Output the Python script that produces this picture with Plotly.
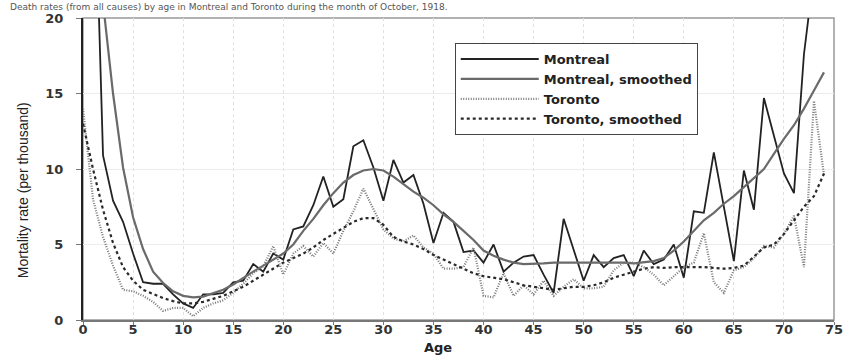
import plotly.graph_objects as go

ages = list(range(0, 75))

montreal = [
    80.0, 33.6, 10.9, 7.9, 6.5, 4.4, 2.5, 2.4, 2.4, 1.7,
    1.1, 0.8, 1.7, 1.7, 1.8, 2.5, 2.6, 3.7, 3.2, 4.4,
    4.0, 6.0, 6.2, 7.6, 9.5, 7.5, 8.0, 11.5, 11.9, 10.1,
    7.9, 10.6, 9.1, 9.6, 7.7, 5.1, 7.1, 6.5, 4.5, 4.6,
    3.8, 5.0, 3.2, 3.8, 4.2, 4.3, 3.0, 1.8, 6.7, 4.6,
    2.6, 4.3, 3.5, 4.1, 4.3, 2.9, 4.6, 3.7, 4.0, 5.0,
    2.8, 7.2, 7.1, 11.1, 7.5, 3.9, 9.9, 7.3, 14.7, 12.2,
    9.7, 8.4, 17.6, 23.0, 30.0,
]

montreal_smoothed = [
    60.0, 35.0, 21.0, 15.0, 10.1, 6.8, 4.7, 3.2, 2.45, 1.9,
    1.6, 1.5, 1.55, 1.75, 2.0, 2.35, 2.8, 3.2, 3.6, 4.0,
    4.4, 5.0, 5.9, 6.7, 7.6, 8.4, 9.1, 9.6, 9.9, 10.0,
    9.9, 9.5, 9.0, 8.5, 8.1, 7.6, 7.0, 6.5, 5.9, 5.3,
    4.6, 4.25, 4.0, 3.8, 3.7, 3.7, 3.75, 3.8, 3.8, 3.8,
    3.8, 3.8, 3.8, 3.8, 3.8, 3.75, 3.8, 3.9, 4.1, 4.6,
    5.2, 5.9, 6.6, 7.1, 7.7, 8.2, 8.8, 9.4, 10.0, 11.0,
    12.0, 12.9, 14.0, 15.2, 16.4,
]

toronto = [
    14.0, 8.0, 5.5, 3.6, 2.0, 1.9, 1.6, 1.2, 0.6, 0.8,
    0.8, 0.25, 0.8, 1.1, 1.3, 1.8, 2.4, 3.1, 3.55, 4.9,
    3.0, 4.4, 4.9, 4.2, 5.1, 4.4, 5.9, 7.2, 8.7, 7.3,
    6.0, 5.4, 5.2, 5.6, 4.8, 4.4, 3.4, 3.4, 3.5, 4.8,
    1.6, 1.5, 3.1, 1.6, 2.3, 1.7, 2.6, 1.6, 2.2, 2.7,
    2.1, 2.1, 2.2, 3.3, 3.8, 3.8, 3.5, 3.0, 2.3, 2.9,
    3.5, 3.8, 5.75, 2.5, 1.8, 3.3, 3.5, 4.1, 4.9, 4.8,
    5.7, 6.9, 3.5, 14.5, 9.6,
]

toronto_smoothed = [
    13.0, 10.0, 7.3, 5.1, 3.5, 2.6, 2.0, 1.7, 1.45, 1.25,
    1.1, 1.1, 1.2, 1.4, 1.6, 1.9, 2.2, 2.6, 3.0, 3.4,
    3.8, 4.1, 4.4, 4.8, 5.3, 5.7, 6.1, 6.5, 6.75, 6.75,
    6.3, 5.5, 5.2, 5.0, 4.7, 4.3, 4.0, 3.7, 3.4, 3.1,
    2.9, 2.8, 2.7, 2.5, 2.3, 2.2, 2.1, 2.0, 2.1, 2.2,
    2.2, 2.3, 2.5, 2.8, 3.0, 3.2, 3.4, 3.5, 3.45, 3.5,
    3.5, 3.5, 3.5, 3.45, 3.4, 3.45, 3.6, 4.2, 4.8, 5.0,
    5.7, 6.6, 7.5, 8.2, 9.7,
]

x_ticks = list(range(0, 80, 5))
y_ticks = [0, 5, 10, 15, 20]

title_text = ("Death rates (from all causes) by age in Montreal and Toronto "
              "during the month of October, 1918.")

fig = go.Figure()
fig.add_trace(go.Scatter(x=ages, y=montreal, mode="lines", name="Montreal",
                         line=dict(color="#222222", width=1.8)))
fig.add_trace(go.Scatter(x=ages, y=montreal_smoothed, mode="lines",
                         name="Montreal, smoothed",
                         line=dict(color="#6a6a6a", width=2.2)))
fig.add_trace(go.Scatter(x=ages, y=toronto, mode="lines", name="Toronto",
                         line=dict(color="#7a7a7a", width=2.2, dash="1px,1.5px")))
fig.add_trace(go.Scatter(x=ages, y=toronto_smoothed, mode="lines",
                         name="Toronto, smoothed",
                         line=dict(color="#2a2a2a", width=2.2, dash="3px,3px")))

fig.update_layout(
    width=853, height=356,
    margin=dict(l=83, r=10, t=18, b=36),
    paper_bgcolor="white", plot_bgcolor="white",
    font=dict(family="DejaVu Sans, sans-serif", color="#333333"),
    showlegend=True,
    legend=dict(
        x=0.495, y=0.917, xanchor="left", yanchor="top",
        bgcolor="white", bordercolor="#444444", borderwidth=1,
        font=dict(family="DejaVu Sans, sans-serif", size=13, color="#222222",
                  weight="bold"),
        itemwidth=78, tracegroupgap=0,
    ),
    annotations=[
        dict(text=title_text, xref="paper", yref="paper", x=0, xshift=-75,
             y=1.0, yshift=18, xanchor="left", yanchor="top", showarrow=False,
             font=dict(family="DejaVu Sans, sans-serif", size=9, color="#555555")),
        dict(text="Age", xref="paper", yref="paper", x=0.473, y=0, yshift=-27,
             xanchor="center", yanchor="middle", showarrow=False,
             font=dict(family="DejaVu Sans, sans-serif", size=13, color="#222222",
                       weight="bold")),
        dict(text="Mortality rate (per thousand)", xref="paper", yref="paper",
             x=0, xshift=-60, y=0.43, xanchor="center", yanchor="middle",
             textangle=-90, showarrow=False,
             font=dict(family="Liberation Sans Narrow, Liberation Sans, sans-serif",
                       size=14, color="#222222")),
    ],
)

fig.update_xaxes(
    range=[0, 75], tickvals=x_ticks, ticktext=[str(v) for v in x_ticks],
    showgrid=True, gridcolor="#e0e0e0", griddash="dot", gridwidth=1,
    showline=True, linecolor="#777777", linewidth=2, mirror=False,
    ticks="outside", ticklen=3, tickcolor="#777777",
    ticklabelstandoff=-7,
    tickfont=dict(family="DejaVu Sans, sans-serif", size=13, color="#333333",
                  weight="bold"),
    zeroline=False,
)
fig.update_yaxes(
    range=[0, 20], tickvals=y_ticks, ticktext=[str(v) for v in y_ticks],
    showgrid=True, gridcolor="#ececec", gridwidth=1,
    showline=True, linecolor="#222222", linewidth=2,
    ticks="outside", ticklen=5, tickcolor="#777777",
    ticklabelstandoff=10,
    tickfont=dict(family="DejaVu Sans, sans-serif", size=13, color="#333333",
                  weight="bold"),
    zeroline=False,
)

# top and right border of the plot area
fig.add_shape(type="rect", xref="paper", yref="paper", x0=0, y0=0, x1=1, y1=1,
              line=dict(color="#999999", width=1.5), layer="below")

fig.write_html("out.html")
